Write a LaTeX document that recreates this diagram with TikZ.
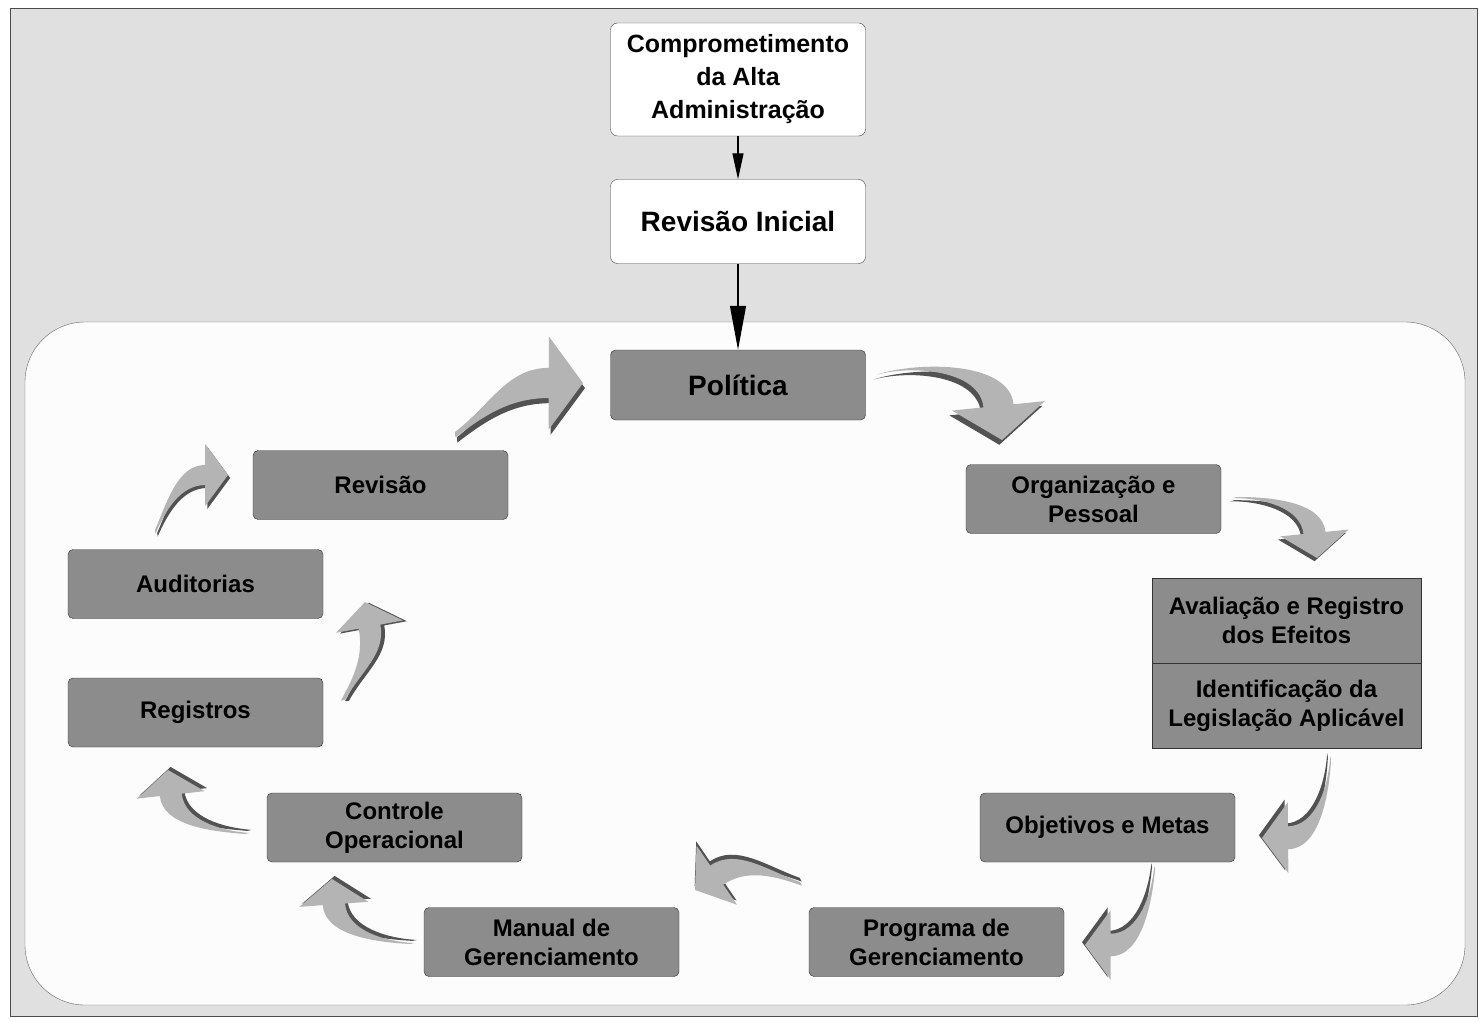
\documentclass[tikz,border=0pt]{standalone}
\usepackage{fontspec}
\setmainfont{Liberation Sans}
\usetikzlibrary{arrows.meta}

\definecolor{framegray}{RGB}{224,224,224}
\definecolor{panelwhite}{RGB}{252,252,252}
\definecolor{boxgray}{RGB}{140,140,140}
\definecolor{arrowlight}{RGB}{180,180,180}
\definecolor{arrowdark}{RGB}{82,82,82}

% curved block arrow: tail x, tail y, tip x, tip y, head angle, flip
\newcommand\cyclearrow[6]{%
  \pgfmathsetmacro\caang{atan2(#2-#4,#3-#1)}%
  \pgfmathsetmacro\calen{veclen(#3-#1,#4-#2)/100}%
  \pgfmathsetmacro\cata{-0.8*(#5)}%
  \pgfmathsetmacro\catb{#5+180}%
  \pgfmathsetmacro\cabx{100-25*cos(#5)}%
  \pgfmathsetmacro\caby{-25*sin(#5)}%
  \pgfmathsetmacro\caox{\cabx-11*sin(#5)}%
  \pgfmathsetmacro\caoy{\caby+11*cos(#5)}%
  \pgfmathsetmacro\caix{\cabx+11*sin(#5)}%
  \pgfmathsetmacro\caiy{\caby-11*cos(#5)}%
  \pgfmathsetmacro\caHox{\cabx-34*sin(#5)}%
  \pgfmathsetmacro\caHoy{\caby+34*cos(#5)}%
  \pgfmathsetmacro\caHix{\cabx+34*sin(#5)}%
  \pgfmathsetmacro\caHiy{\caby-34*cos(#5)}%
  \pgfmathsetmacro\catx{-4*sin(\cata)}%
  \pgfmathsetmacro\caty{-4*cos(\cata)}%
  \def\capath{(0,0) .. controls +(\cata:34) and +(\catb:30) .. (\caox,\caoy)
    -- (\caHox,\caHoy) -- (100,0) -- (\caHix,\caHiy) -- (\caix,\caiy)
    .. controls +(\catb:27) and +(\cata:28) .. (\catx,\caty) -- cycle}%
  \begin{scope}[shift={(#1,#2)}, x=1pt, y=1pt, rotate=\caang, scale=\calen, yscale=#6]
    \fill[arrowdark, shift={(0,{-4*#6})}] \capath;
    \fill[arrowlight] \capath;
  \end{scope}}

\begin{document}
\begin{tikzpicture}[x=1pt, y=-1pt,
    topbox/.style={draw=black!75, fill=white, rounded corners=7pt, minimum width=255pt,
      inner sep=0pt, align=center, font=\bfseries\fontsize{25}{33}\selectfont},
    cyclebox/.style={draw=black!80, fill=boxgray, rounded corners=5pt, minimum width=255pt,
      minimum height=69pt, inner sep=0pt, align=center, font=\bfseries\fontsize{24}{29}\selectfont},
    stackbox/.style={cyclebox, sharp corners, minimum width=269pt, minimum height=85pt},
    bigfont/.style={font=\bfseries\fontsize{28}{33}\selectfont}]
  \useasboundingbox (0,0) rectangle (1479,1019);
  \fill[white] (0,0) rectangle (1479,1019);
  \filldraw[fill=framegray, draw=black!70] (10,8) rectangle (1477,1016);
  \filldraw[fill=panelwhite, draw=black!60, rounded corners=60pt] (25,322) rectangle (1465,1005);

  \node[topbox, minimum height=113pt] (comp) at (738,79.5) {Comprometimento\\da Alta\\Administração};
  \node[topbox, bigfont, minimum height=84pt] (revini) at (738,221.5) {Revisão Inicial};
  \node[cyclebox, bigfont, minimum height=70pt] (pol) at (738,385) {Política};
  \node[cyclebox] (org) at (1093.5,499) {Organização e\\Pessoal};
  \node[stackbox] (aval) at (1286.5,620.5) {Avaliação e Registro\\dos Efeitos};
  \node[stackbox, anchor=north] (ident) at (aval.south) {Identificação da\\Legislação Aplicável};
  \node[cyclebox] (obj) at (1107.5,827.5) {Objetivos e Metas};
  \node[cyclebox] (prog) at (936.5,942) {Programa de\\Gerenciamento};
  \node[cyclebox] (man) at (551.5,942) {Manual de\\Gerenciamento};
  \node[cyclebox] (ctrl) at (394.5,827.5) {Controle\\Operacional};
  \node[cyclebox] (reg) at (195.5,712.5) {Registros};
  \node[cyclebox] (aud) at (195.5,584) {Auditorias};
  \node[cyclebox] (rev) at (380.5,485) {Revisão};

  \draw[line width=1.2pt, -{Triangle[length=26pt,width=11pt]}] (comp) -- (revini);
  \draw[line width=1.2pt, -{Triangle[length=44pt,width=16pt]}] (revini) -- (pol);

  % the cycle
  \cyclearrow{882}{373}{1002}{440}{-55}{1}
  \cyclearrow{1237}{497}{1317}{558}{-47}{1}
  \cyclearrow{1331}{760}{1262}{838}{-48}{1}
  \cyclearrow{1155}{870}{1085}{945}{-47}{1}
  \cyclearrow{800}{882}{695}{890}{-30}{-1}
  \cyclearrow{410}{944}{332}{879}{-46}{1}
  \cyclearrow{245}{834}{168}{770}{-44}{1}
  \cyclearrow{345}{700}{365}{602}{-22}{-1}
  \cyclearrow{155}{530}{228}{475}{-37}{1}
  \cyclearrow{455}{432}{583}{383}{-21}{1}
\end{tikzpicture}
\end{document}
